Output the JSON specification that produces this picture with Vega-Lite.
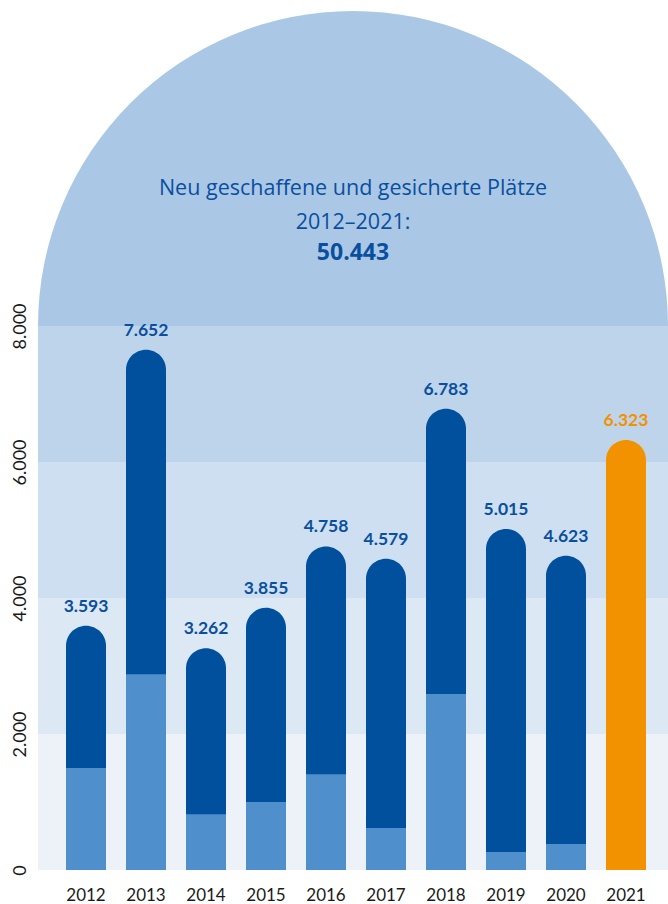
{
  "$schema": "https://vega.github.io/schema/vega-lite/v6.json",
  "width": 630,
  "height": 860,
  "autosize": {"type": "none"},
  "padding": {"left": 38, "top": 10, "right": 0, "bottom": 34},
  "background": "#ffffff",
  "config": {
    "view": {"stroke": null},
    "font": "Lato",
    "locale": {"number": {"decimal": ",", "thousands": ".", "grouping": [3], "currency": ["", " €"]}},
    "axis": {"grid": false, "domain": false, "ticks": false, "title": null, "labelFont": "Lato", "labelColor": "#1a1a1a"}
  },
  "datasets": {
    "bars": [
      {"year": "2012", "total": 3593, "lower": 1500},
      {"year": "2013", "total": 7652, "lower": 2878},
      {"year": "2014", "total": 3262, "lower": 819},
      {"year": "2015", "total": 3855, "lower": 1000},
      {"year": "2016", "total": 4758, "lower": 1407},
      {"year": "2017", "total": 4579, "lower": 618},
      {"year": "2018", "total": 6783, "lower": 2588},
      {"year": "2019", "total": 5015, "lower": 265},
      {"year": "2020", "total": 4623, "lower": 382},
      {"year": "2021", "total": 6323, "lower": 0}
    ],
    "bands": [
      {"band": "a", "lo": 0, "hi": 2000},
      {"band": "b", "lo": 2000, "hi": 4000},
      {"band": "c", "lo": 4000, "hi": 6000},
      {"band": "d", "lo": 6000, "hi": 8000}
    ]
  },
  "layer": [
    {
      "data": {"values": [{"shape": "dome"}]},
      "mark": {"type": "arc", "theta": -1.5707963, "theta2": 1.5707963, "innerRadius": 0, "outerRadius": 315, "color": "#aac8e6"},
      "encoding": {
        "y": {"datum": 8000, "type": "quantitative", "scale": {"domain": [0, 12647], "nice": false}, "axis": {"values": [0, 2000, 4000, 6000, 8000], "format": ",d", "labelAngle": -90, "labelAlign": "center", "labelBaseline": "alphabetic", "labelPadding": 13, "labelFontSize": 18}}
      }
    },
    {
      "data": {"name": "bands"},
      "mark": {"type": "rect"},
      "encoding": {
        "y": {"field": "lo", "type": "quantitative"},
        "y2": {"field": "hi"},
        "color": {"field": "band", "type": "nominal", "legend": null, "scale": {"domain": ["a", "b", "c", "d"], "range": ["#edf2f9", "#dce8f4", "#cddff0", "#bdd4eb"]}}
      }
    },
    {
      "data": {"name": "bars"},
      "mark": {"type": "bar", "cornerRadiusTopLeft": 20, "cornerRadiusTopRight": 20},
      "encoding": {
        "x": {"field": "year", "type": "ordinal", "scale": {"paddingInner": 0.3333, "paddingOuter": 0.4167, "align": 0.56}, "axis": {"labelAngle": 0, "labelBaseline": "alphabetic", "labelPadding": 30, "labelFontSize": 17}},
        "y": {"field": "total", "type": "quantitative"},
        "y2": {"datum": 0},
        "color": {"condition": {"test": "datum.year == '2021'", "value": "#f39200"}, "value": "#00509e"}
      }
    },
    {
      "data": {"name": "bars"},
      "transform": [{"filter": "datum.lower > 0"}],
      "mark": {"type": "bar", "color": "#4f8fcc"},
      "encoding": {
        "x": {"field": "year", "type": "ordinal"},
        "y": {"field": "lower", "type": "quantitative"},
        "y2": {"datum": 0}
      }
    },
    {
      "data": {"name": "bars"},
      "mark": {"type": "text", "fontWeight": "bold", "fontSize": 17.5, "baseline": "alphabetic", "dy": -14},
      "encoding": {
        "x": {"field": "year", "type": "ordinal"},
        "y": {"field": "total", "type": "quantitative"},
        "text": {"field": "total", "type": "quantitative", "format": ",d"},
        "color": {"condition": {"test": "datum.year == '2021'", "value": "#f39200"}, "value": "#0a4f9e"}
      }
    },
    {
      "data": {"values": [{"text": "Neu geschaffene und gesicherte Plätze"}]},
      "mark": {"type": "text", "font": "Open Sans", "fontSize": 21.5, "baseline": "alphabetic", "color": "#0a4f9e"},
      "encoding": {
        "y": {"datum": 9922, "type": "quantitative"},
        "text": {"field": "text"}
      }
    },
    {
      "data": {"values": [{"text": "2012–2021:"}]},
      "mark": {"type": "text", "font": "Open Sans", "fontSize": 21.5, "baseline": "alphabetic", "color": "#0a4f9e"},
      "encoding": {
        "y": {"datum": 9433, "type": "quantitative"},
        "text": {"field": "text"}
      }
    },
    {
      "data": {"values": [{"total": 50443}]},
      "mark": {"type": "text", "font": "Open Sans", "fontSize": 23, "fontWeight": "bold", "baseline": "alphabetic", "color": "#0a4f9e"},
      "encoding": {
        "y": {"datum": 8966, "type": "quantitative"},
        "text": {"field": "total", "type": "quantitative", "format": ",d"}
      }
    }
  ]
}
